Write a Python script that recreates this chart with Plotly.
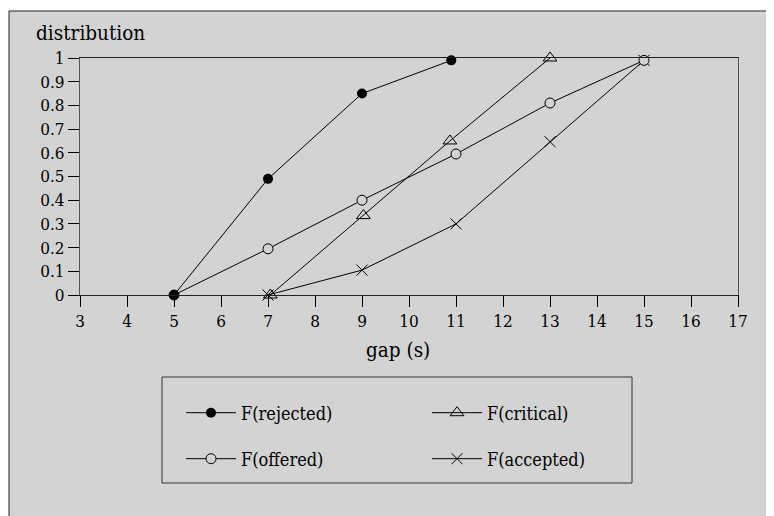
import plotly.graph_objects as go

# ---- data ----
gap_rejected = [5, 7, 9, 10.9]
F_rejected = [0, 0.49, 0.85, 0.99]

gap_critical = [7.05, 9.03, 10.87, 13.0]
F_critical = [0, 0.335, 0.65, 1.0]

gap_offered = [5, 7, 9, 11, 13, 15]
F_offered = [0, 0.195, 0.40, 0.595, 0.81, 0.99]

gap_accepted = [7, 9, 11, 13, 15]
F_accepted = [0, 0.105, 0.30, 0.647, 0.99]

x_ticks = list(range(3, 18))
y_ticks = [0, 0.1, 0.2, 0.3, 0.4, 0.5, 0.6, 0.7, 0.8, 0.9, 1]
y_ticklabels = ["0", "0.1", "0.2", "0.3", "0.4", "0.5", "0.6", "0.7", "0.8", "0.9", "1"]

FONT = "DejaVu Serif Condensed, DejaVu Serif"
BG = "#d3d3d3"
OFF = 8  # page body margin
W, H = 766, 508
L, R, T, B = 72, 36, 50, 221
pw, ph = W - L - R, H - T - B


def px(xp):
    """page pixel x -> paper x"""
    return (xp - OFF - L) / pw


def py(yp):
    """page pixel y -> paper y"""
    return (OFF + H - B - yp) / ph


fig = go.Figure()

line = dict(color="black", width=1)
fig.add_trace(go.Scatter(x=gap_critical, y=F_critical, name="F(critical)", mode="lines+markers",
                         line=line, marker=dict(symbol="triangle-up-open", size=12, color="black",
                                                line=dict(width=1, color="black")),
                         cliponaxis=False, legend="legend2", showlegend=True))
fig.add_trace(go.Scatter(x=gap_accepted, y=F_accepted, name="F(accepted)", mode="lines+markers",
                         line=line, marker=dict(symbol="x-thin-open", size=11, color="black",
                                                line=dict(width=1, color="black")),
                         cliponaxis=False, legend="legend4", showlegend=True))
fig.add_trace(go.Scatter(x=gap_offered, y=F_offered, name="F(offered)", mode="lines+markers",
                         line=line, marker=dict(symbol="circle", size=10, color=BG,
                                                line=dict(width=1, color="black")),
                         cliponaxis=False, legend="legend3", showlegend=True))
fig.add_trace(go.Scatter(x=gap_rejected, y=F_rejected, name="F(rejected)", mode="lines+markers",
                         line=line, marker=dict(symbol="circle", size=10, color="black"),
                         cliponaxis=False, legend="legend", showlegend=True))

leg_common = dict(bgcolor="rgba(0,0,0,0)", borderwidth=0, itemwidth=50, visible=True,
                  xanchor="left", yanchor="middle",
                  font=dict(family=FONT, size=18, color="black"))

fig.update_layout(
    width=W, height=H,
    showlegend=True,
    margin=dict(l=L, r=R, t=T, b=B),
    paper_bgcolor="white",
    plot_bgcolor=BG,
    font=dict(family=FONT, size=17, color="black"),
    legend=dict(x=px(181), y=py(413), **leg_common),
    legend2=dict(x=px(427), y=py(413), **leg_common),
    legend3=dict(x=px(181), y=py(459), **leg_common),
    legend4=dict(x=px(427), y=py(459), **leg_common),
    xaxis=dict(range=[3, 17], tickvals=x_ticks, ticks="outside", ticklen=11, tickcolor="black",
               showline=True, linecolor="#222", linewidth=1, mirror=True, showgrid=False,
               zeroline=False, tickfont=dict(family=FONT, size=17)),
    yaxis=dict(range=[0, 1], tickvals=y_ticks, ticktext=y_ticklabels, ticks="outside", ticklen=11,
               tickcolor="black", showline=True, linecolor="#555", linewidth=1, mirror=True,
               showgrid=False, zeroline=False, tickfont=dict(family=FONT, size=17)),
    shapes=[
        dict(type="rect", xref="paper", yref="paper", x0=px(9), x1=px(800), y0=py(540), y1=py(11),
             line=dict(color="#222", width=1), fillcolor=BG, layer="below"),
        dict(type="rect", xref="paper", yref="paper", x0=px(162), x1=px(632), y0=py(483), y1=py(377),
             line=dict(color="#333", width=1), fillcolor="rgba(0,0,0,0)", layer="above"),
    ],
    annotations=[
        dict(text="distribution", xref="paper", yref="paper", x=px(34), y=py(33),
             xanchor="left", yanchor="middle", showarrow=False, font=dict(family=FONT, size=20.5)),
        dict(text="gap (s)", xref="paper", yref="paper", x=px(397.5), y=py(350),
             xanchor="center", yanchor="middle", showarrow=False, font=dict(family=FONT, size=20.5)),
    ],
)

fig.write_html("out.html")
